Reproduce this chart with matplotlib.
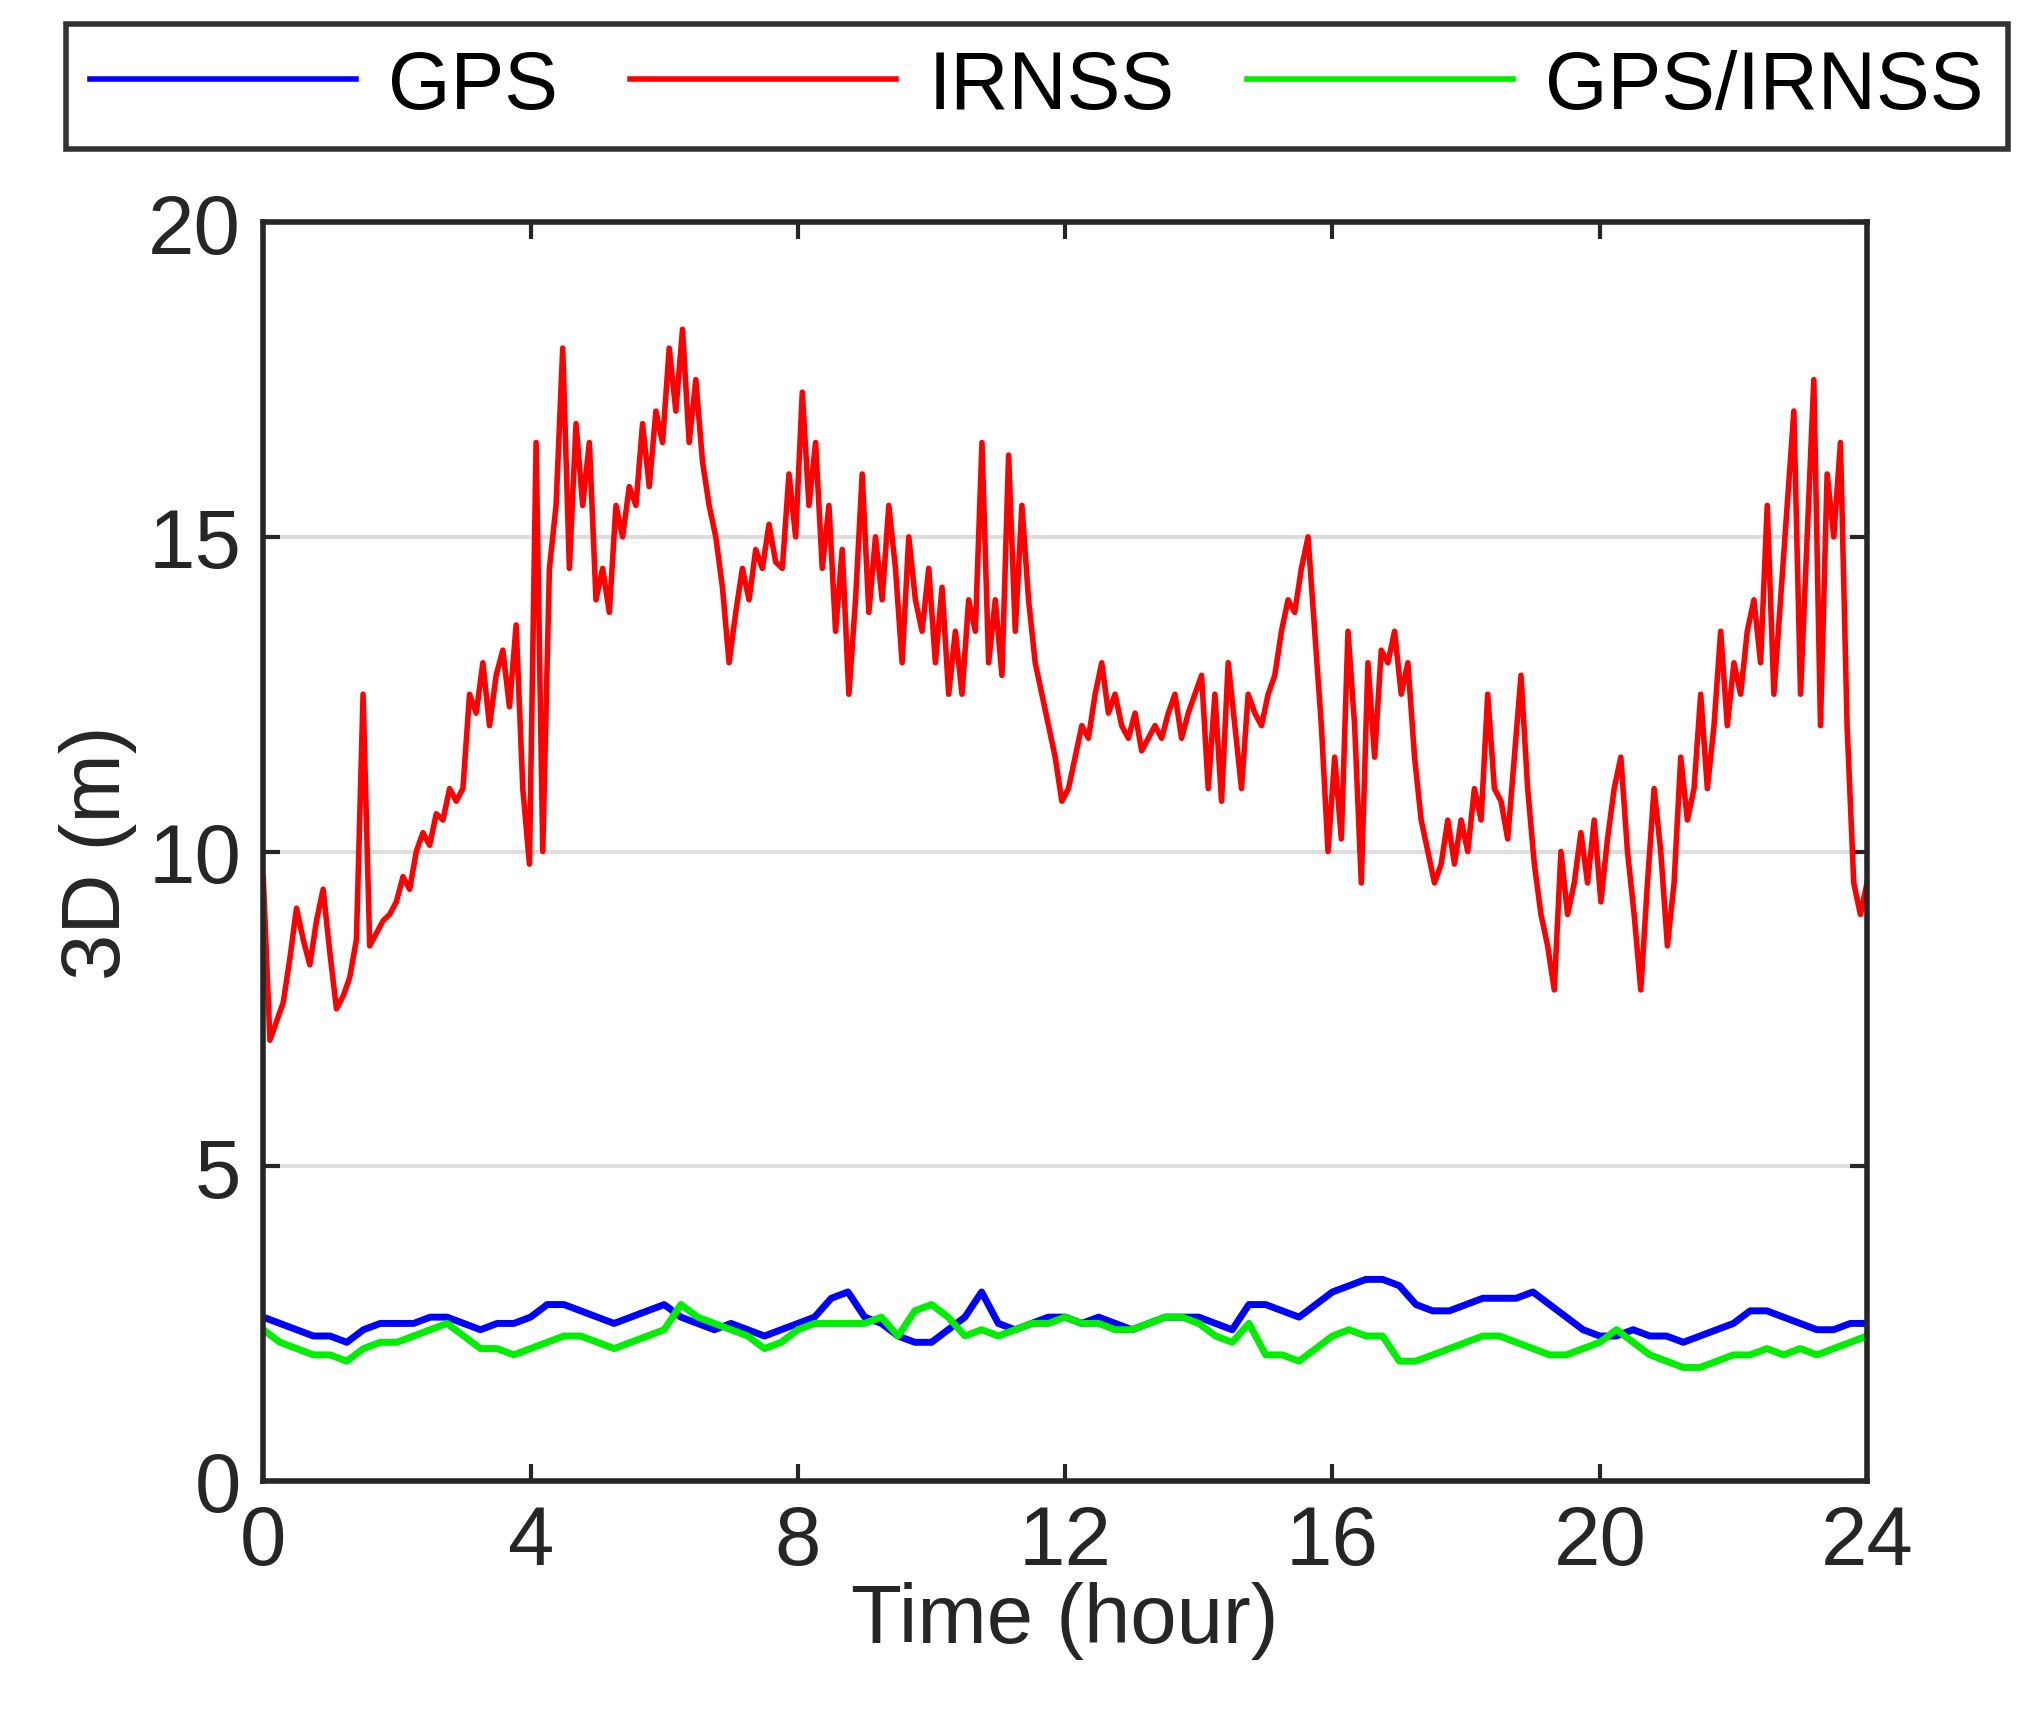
import numpy as np
import matplotlib
matplotlib.use("Agg")
import matplotlib.pyplot as plt

plt.rcParams['font.family'] = ['Liberation Sans', 'DejaVu Sans']

# IRNSS 3D error (m), hand-read at 0.1 h steps
irnss = [9.6,7.0,7.3,7.6,8.3,9.1,8.6,8.2,8.9,9.4,8.4,7.5,7.7,8.0,8.6,12.5,8.5,8.7,8.9,9.0,
         9.2,9.6,9.4,10.0,10.3,10.1,10.6,10.5,11.0,10.8,11.0,12.5,12.2,13.0,12.0,12.8,13.2,12.3,13.6,11.0,
         9.8,16.5,10.0,14.5,15.5,18.0,14.5,16.8,15.5,16.5,14.0,14.5,13.8,15.5,15.0,15.8,15.5,16.8,15.8,17.0,
         16.5,18.0,17.0,18.3,16.5,17.5,16.2,15.5,15.0,14.2,13.0,13.8,14.5,14.0,14.8,14.5,15.2,14.6,14.5,16.0,
         15.0,17.3,15.5,16.5,14.5,15.5,13.5,14.8,12.5,14.0,16.0,13.8,15.0,14.0,15.5,14.5,13.0,15.0,14.0,13.5,
         14.5,13.0,14.2,12.5,13.5,12.5,14.0,13.5,16.5,13.0,14.0,12.8,16.3,13.5,15.5,14.0,13.0,12.5,12.0,11.5,
         10.8,11.0,11.5,12.0,11.8,12.5,13.0,12.2,12.5,12.0,11.8,12.2,11.6,11.8,12.0,11.8,12.2,12.5,11.8,12.2,
         12.5,12.8,11.0,12.5,10.8,13.0,12.0,11.0,12.5,12.2,12.0,12.5,12.8,13.5,14.0,13.8,14.5,15.0,13.5,12.0,
         10.0,11.5,10.2,13.5,12.0,9.5,13.0,11.5,13.2,13.0,13.5,12.5,13.0,11.5,10.5,10.0,9.5,9.8,10.5,9.8,
         10.5,10.0,11.0,10.5,12.5,11.0,10.8,10.2,11.5,12.8,11.0,9.8,9.0,8.5,7.8,10.0,9.0,9.5,10.3,9.5,
         10.5,9.2,10.2,11.0,11.5,10.0,9.0,7.8,9.5,11.0,10.0,8.5,9.5,11.5,10.5,11.0,12.5,11.0,12.0,13.5,
         12.0,13.0,12.5,13.5,14.0,13.0,15.5,12.5,14.0,15.5,17.0,12.5,15.0,17.5,12.0,16.0,15.0,16.5,12.0,9.5,
         9.0,9.5]
t_irnss = np.linspace(0, 24, len(irnss))

# GPS and GPS/IRNSS 3D error (m), hand-read at 0.25 h steps
gps = [2.6,2.5,2.4,2.3,2.3,2.2,2.4,2.5,2.5,2.5,2.6,2.6,2.5,2.4,2.5,2.5,2.6,2.8,2.8,2.7,
       2.6,2.5,2.6,2.7,2.8,2.6,2.5,2.4,2.5,2.4,2.3,2.4,2.5,2.6,2.9,3.0,2.6,2.5,2.3,2.2,
       2.2,2.4,2.6,3.0,2.5,2.4,2.5,2.6,2.6,2.5,2.6,2.5,2.4,2.5,2.6,2.6,2.6,2.5,2.4,2.8,
       2.8,2.7,2.6,2.8,3.0,3.1,3.2,3.2,3.1,2.8,2.7,2.7,2.8,2.9,2.9,2.9,3.0,2.8,2.6,2.4,
       2.3,2.3,2.4,2.3,2.3,2.2,2.3,2.4,2.5,2.7,2.7,2.6,2.5,2.4,2.4,2.5,2.5]
gps_irnss = [2.4,2.2,2.1,2.0,2.0,1.9,2.1,2.2,2.2,2.3,2.4,2.5,2.3,2.1,2.1,2.0,2.1,2.2,2.3,2.3,
             2.2,2.1,2.2,2.3,2.4,2.8,2.6,2.5,2.4,2.3,2.1,2.2,2.4,2.5,2.5,2.5,2.5,2.6,2.3,2.7,
             2.8,2.6,2.3,2.4,2.3,2.4,2.5,2.5,2.6,2.5,2.5,2.4,2.4,2.5,2.6,2.6,2.5,2.3,2.2,2.5,
             2.0,2.0,1.9,2.1,2.3,2.4,2.3,2.3,1.9,1.9,2.0,2.1,2.2,2.3,2.3,2.2,2.1,2.0,2.0,2.1,
             2.2,2.4,2.2,2.0,1.9,1.8,1.8,1.9,2.0,2.0,2.1,2.0,2.1,2.0,2.1,2.2,2.3]
t_low = np.linspace(0, 24, len(gps))

xticks = [0, 4, 8, 12, 16, 20, 24]
yticks = [0, 5, 10, 15, 20]

fig = plt.figure(figsize=(20.25, 17.31), dpi=100)
ax = fig.add_axes([0.130, 0.144, 0.792, 0.727])
l1, = ax.plot(t_low, gps, color='#0000ff', lw=5, label='GPS')
l2, = ax.plot(t_irnss, irnss, color='#ff0000', lw=4, label='IRNSS')
l3, = ax.plot(t_low, gps_irnss, color='#00ee00', lw=5, label='GPS/IRNSS')
ax.set_xlim(0, 24)
ax.set_ylim(0, 20)
ax.set_xticks(xticks)
ax.set_yticks(yticks)
ax.yaxis.grid(True, color='#dddddd', lw=3)
ax.set_axisbelow(True)
ax.tick_params(direction='in', length=12, width=3, top=True, right=True,
               labelsize=60, colors='#262626', pad=16)
for s in ax.spines.values():
    s.set_linewidth(4)
    s.set_color('#262626')
ax.set_xlabel('Time (hour)', fontsize=60, color='#262626', labelpad=0)
ax.set_ylabel('3D (m)', fontsize=60, color='#262626', labelpad=8)

leg = fig.legend(handles=[l1, l2, l3], loc='upper center', bbox_to_anchor=(0.512, 0.99),
                 ncol=3, fontsize=58, frameon=True, fancybox=False, edgecolor='#000000',
                 handlelength=3.3, columnspacing=0.9, handletextpad=0.4, borderpad=0.3,
                 borderaxespad=0.1)
leg.get_frame().set_linewidth(4)
for h in leg.get_lines():
    h.set_linewidth(4)
fig.savefig('out.png', dpi=100, facecolor='white')
